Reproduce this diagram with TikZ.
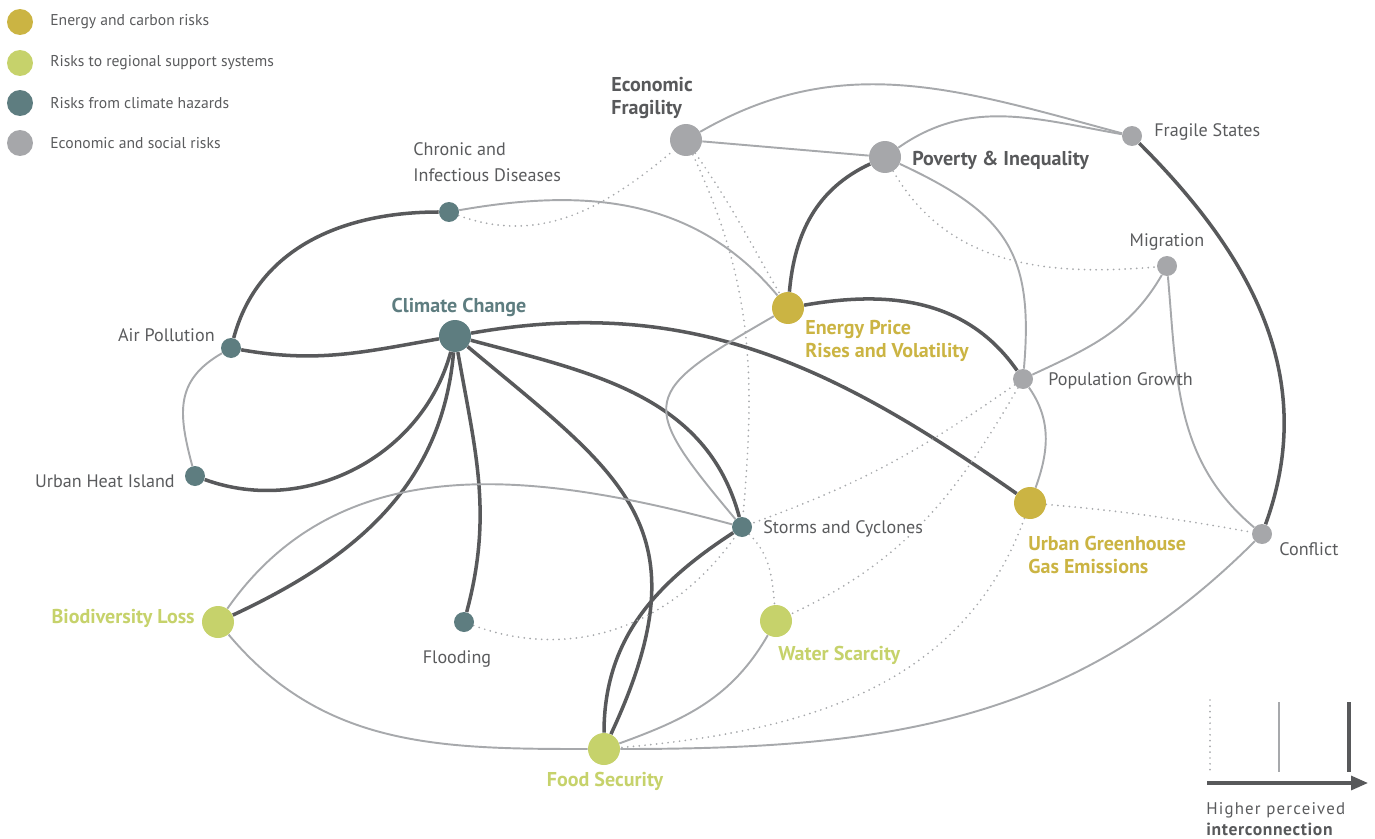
\documentclass[tikz,border=0pt]{standalone}
\usepackage{fontspec}
\setmainfont{PT Sans}
\usetikzlibrary{arrows.meta,backgrounds}
\definecolor{cteal}{HTML}{5E7D80}
\definecolor{cgold}{HTML}{CBB443}
\definecolor{cgreen}{HTML}{C6D26B}
\definecolor{cgray}{HTML}{A6A7AA}
\definecolor{cdark}{HTML}{58595B}
\definecolor{cline}{HTML}{A7A9AC}
\definecolor{ctext}{HTML}{5A5B5D}
\tikzset{
  risk/.style={circle,inner sep=0pt,minimum size=0.4cm},
  bigrisk/.style={risk,minimum size=0.64cm},
  strong/.style={draw=cdark,line width=2pt},
  medium/.style={draw=cline,line width=1.1pt},
  weak/.style={draw=cline,line width=1.1pt,line cap=round,dash pattern=on 0pt off 3.3pt},
  lbl/.style={text=ctext,inner sep=0pt,align=left,font=\fontsize{10.3}{14.5}\selectfont},
  blbl/.style={inner sep=0pt,align=left,font=\bfseries\fontsize{11.4}{13.2}\selectfont},
  leg/.style={text=ctext,inner sep=0pt,anchor=west,font=\fontsize{8.9}{10}\selectfont}
}
\begin{document}
\begin{tikzpicture}[x=0.02cm,y=-0.02cm]
  \useasboundingbox (0,0) rectangle (1375,838);

  \node[risk,fill=cgold,minimum size=0.52cm] (k1) at (20,22) {};
  \node[risk,fill=cgreen,minimum size=0.52cm] (k2) at (20,63) {};
  \node[risk,fill=cteal,minimum size=0.52cm] (k3) at (20,103) {};
  \node[risk,fill=cgray,minimum size=0.52cm] (k4) at (20,143) {};
  \node[leg] (k1t) at (50,22) {Energy and carbon risks};
  \node[leg] (k2t) at (50,63) {Risks to regional support systems};
  \node[leg] (k3t) at (50,103) {Risks from climate hazards};
  \node[leg] (k4t) at (50,143) {Economic and social risks};

  \node[bigrisk,fill=cgray] (EF) at (686,140) {};
  \node[bigrisk,fill=cgray] (PI) at (885,157) {};
  \node[risk,fill=cgray] (FS) at (1132,136) {};
  \node[risk,fill=cteal] (CID) at (449,212) {};
  \node[bigrisk,fill=cteal] (CC) at (455,336) {};
  \node[risk,fill=cteal] (AP) at (231,348) {};
  \node[risk,fill=cteal] (UHI) at (195,476) {};
  \node[bigrisk,fill=cgold] (EP) at (788,308) {};
  \node[risk,fill=cgray] (MIG) at (1167,266) {};
  \node[risk,fill=cgray] (PG) at (1023,379) {};
  \node[risk,fill=cteal] (SC) at (742,527) {};
  \node[bigrisk,fill=cgold] (UG) at (1030,503) {};
  \node[risk,fill=cgray] (CON) at (1262,534) {};
  \node[bigrisk,fill=cgreen] (BL) at (218,622) {};
  \node[risk,fill=cteal] (FL) at (464,622) {};
  \node[bigrisk,fill=cgreen] (WS) at (776,621) {};
  \node[bigrisk,fill=cgreen] (FO) at (604,749) {};

  \node[blbl,text=cdark,anchor=west] (EFt) at (611,98) {Economic\\Fragility};
  \node[blbl,text=cdark,anchor=west] (PIt) at (912,160) {Poverty \& Inequality};
  \node[lbl,anchor=west] (FSt) at (1154,132) {Fragile States};
  \node[lbl,anchor=west] (CIDt) at (413,162) {Chronic and\\Infectious Diseases};
  \node[blbl,text=cteal] (CCt) at (459,307) {Climate Change};
  \node[lbl,anchor=east] (APt) at (215,335) {Air Pollution};
  \node[lbl,anchor=east] (UHIt) at (175,481) {Urban Heat Island};
  \node[blbl,text=cgold,anchor=west] (EPt) at (805,341) {Energy Price\\Rises and Volatility};
  \node[lbl] (MIGt) at (1167,242) {Migration};
  \node[lbl,anchor=west] (PGt) at (1048,381) {Population Growth};
  \node[lbl,anchor=west] (SCt) at (763,529) {Storms and Cyclones};
  \node[blbl,text=cgold,anchor=west] (UGt) at (1028,555) {Urban Greenhouse\\Gas Emissions};
  \node[lbl,anchor=west] (CONt) at (1279,549) {Conflict};
  \node[blbl,text=cgreen,anchor=east] (BLt) at (195,618) {Biodiversity Loss};
  \node[lbl] (FLt) at (457,659) {Flooding};
  \node[blbl,text=cgreen,anchor=west] (WSt) at (778,655) {Water Scarcity};
  \node[blbl,text=cgreen] (FOt) at (605,781) {Food Security};

  \begin{scope}[on background layer]
    \draw[strong] (AP) to[out=75,in=180] (CID);
    \draw[strong] (AP) to[out=-10,in=190] (CC);
    \draw[strong] (CC) to[out=-105,in=-20] (UHI);
    \draw[strong] (CC) to[out=-95,in=25] (BL);
    \draw[strong] (CC) to[out=-80,in=75] (FL);
    \draw[strong] (CC) to[out=-40,in=65,out distance=4cm,in distance=4.6cm] (FO);
    \draw[strong] (CC) to[out=-15,in=105] (SC);
    \draw[strong] (CC) to[out=10,in=145] (UG);
    \draw[strong] (EP) to[out=85,in=205] (PI);
    \draw[strong] (EP) to[out=10,in=125] (PG);
    \draw[strong] (FS) to[out=-45,in=70] (CON);
    \draw[strong] (SC) to[out=213,in=90] (FO);

    \draw[medium] (EF) -- (PI);
    \draw[medium] (EF) to[out=30,in=165] (FS);
    \draw[medium] (PI) to[out=35,in=170] (FS);
    \draw[medium] (PI) to[out=-25,in=85,looseness=1.25] (PG);
    \draw[medium] (CID) to[out=10,in=130] (EP);
    \draw[medium] (AP) to[out=210,in=105,looseness=1.2] (UHI);
    \draw[medium] (BL) to[out=55,in=165] (SC);
    \draw[medium] (BL) to[out=-50,in=180] (FO);
    \draw[medium] (EP) to[out=210,in=130,out distance=3.1cm,in distance=3.1cm] (SC);
    \draw[medium] (PG) to[out=25,in=240] (MIG);
    \draw[medium] (PG) to[out=-55,in=70] (UG);
    \draw[medium] (MIG) to[out=-85,in=140] (CON);
    \draw[medium] (CON) to[out=225,in=0] (FO);
    \draw[medium] (WS) to[out=240,in=20] (FO);

    \draw[weak] (CID) to[out=-20,in=220] (EF);
    \draw[weak] (EF) to[out=-65,in=85] (SC);
    \draw[weak] (EF) to[out=-55,in=120] (EP);
    \draw[weak] (PI) to[out=-60,in=185] (MIG);
    \draw[weak] (PG) to[out=215,in=20] (SC);
    \draw[weak] (PG) to[out=240,in=25] (WS);
    \draw[weak] (UG) to[out=-5,in=170] (CON);
    \draw[weak] (UG) to[out=250,in=5] (FO);
    \draw[weak] (SC) to[out=-45,in=95] (WS);
    \draw[weak] (FL) to[out=-20,in=235] (SC);
  \end{scope}

  \coordinate (s1) at (1210,700);
  \coordinate (s2) at (1279,702);
  \coordinate (s3) at (1349,702);
  \draw[weak] (s1) -- (1210,772);
  \draw[medium] (s2) -- (1279,772);
  \draw[strong] (s3) -- (1349,772);
  \draw[cdark,line width=1.8pt,-{Triangle[length=0.34cm,width=0.28cm]}] (1207,783) -- (1368,783);
  \node[text=ctext,inner sep=0pt,anchor=west,font=\addfontfeature{LetterSpace=7}\fontsize{9.6}{10}\selectfont] (hp) at (1206,810) {Higher perceived};
  \node[text=cdark,inner sep=0pt,anchor=west,font=\bfseries\addfontfeature{LetterSpace=3.5}\fontsize{10}{10}\selectfont] (ic) at (1206,829) {interconnection};
\end{tikzpicture}
\end{document}
